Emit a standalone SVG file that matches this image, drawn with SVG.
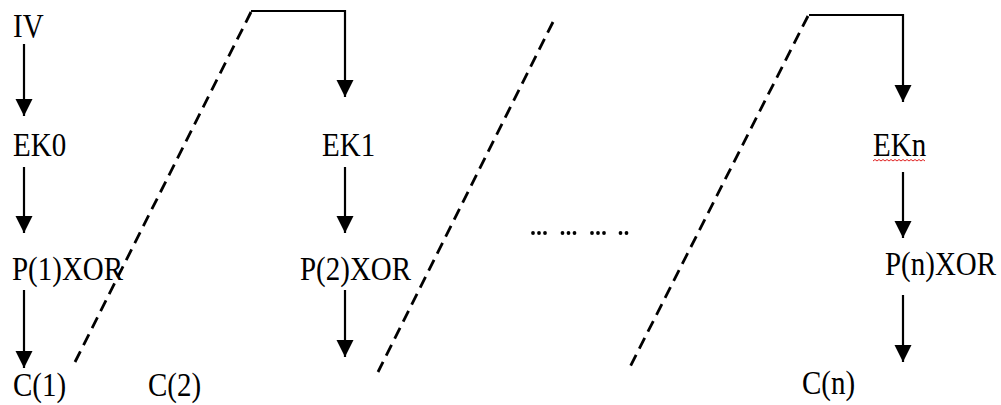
<svg xmlns="http://www.w3.org/2000/svg" width="1001" height="405" viewBox="0 0 1001 405">
  <style>
    .lbl { font-family: "Liberation Serif", "Times New Roman", "DejaVu Serif", serif; font-size: 29px; fill: #000; }
    .flow { fill: none; stroke: #000; stroke-width: 2.2; }
    .dash { fill: none; stroke: #000; stroke-width: 2.8; stroke-dasharray: 12 7; }
    .dot { fill: #000; }
  </style>
  <defs>
    <marker id="head" markerUnits="userSpaceOnUse" markerWidth="18" markerHeight="18" refX="17" refY="8.5" orient="auto">
      <path d="M0,0 L17,8.5 L0,17 Z" fill="#000"/>
    </marker>
    <!-- one group of three dots -->
    <g id="trio">
      <circle class="dot" cx="0" cy="0" r="1.9"/>
      <circle class="dot" cx="6" cy="0" r="1.9"/>
      <circle class="dot" cx="12" cy="0" r="1.9"/>
    </g>
  </defs>
  <rect width="1001" height="405" fill="#fff"/>

  <!-- chain links: dashed feedback lines, key-stream arrows -->
  <g id="connectors">
    <line class="flow" x1="24" y1="44" x2="24" y2="116" marker-end="url(#head)"/>
    <line class="flow" x1="24" y1="167" x2="24" y2="233" marker-end="url(#head)"/>
    <line class="flow" x1="24" y1="290" x2="24" y2="368" marker-end="url(#head)"/>

    <line class="dash" x1="75" y1="362" x2="251" y2="12"/>
    <path class="flow" d="M251,11 H345 V97" marker-end="url(#head)"/>
    <line class="flow" x1="345" y1="167" x2="345" y2="233" marker-end="url(#head)"/>
    <line class="flow" x1="345" y1="290" x2="345" y2="357" marker-end="url(#head)"/>

    <line class="dash" x1="553" y1="22" x2="378" y2="372"/>
    <g id="ellipsis">
      <use href="#trio" x="533" y="233"/>
      <use href="#trio" x="562.5" y="233"/>
      <use href="#trio" x="592" y="233"/>
      <circle class="dot" cx="620.5" cy="233" r="1.9"/>
      <circle class="dot" cx="626.5" cy="233" r="1.9"/>
    </g>

    <line class="dash" x1="808" y1="16" x2="630" y2="367"/>
    <path class="flow" d="M809,15 H903 V102" marker-end="url(#head)"/>
    <line class="flow" x1="903" y1="172" x2="903" y2="238" marker-end="url(#head)"/>
    <line class="flow" x1="903" y1="295" x2="903" y2="362" marker-end="url(#head)"/>
  </g>

  <g id="iv"><text class="lbl" transform="translate(13,37) scale(1,1.18)">IV</text></g>
  <g id="ek0"><text class="lbl" transform="translate(13,156) scale(1,1.18)">EK0</text></g>
  <g id="p1xor"><text class="lbl" transform="translate(12,280) scale(1,1.18)">P(1)XOR</text></g>
  <g id="c1"><text class="lbl" transform="translate(13,396) scale(1,1.18)">C(1)</text></g>
  <g id="c2"><text class="lbl" transform="translate(148,396) scale(1,1.18)">C(2)</text></g>

  <g id="ek1"><text class="lbl" transform="translate(322,156) scale(1,1.18)">EK1</text></g>
  <g id="p2xor"><text class="lbl" transform="translate(300,280) scale(1,1.18)">P(2)XOR</text></g>

  <g id="ekn">
    <text class="lbl" transform="translate(873,156) scale(1,1.18)">EKn</text>
    <path d="M873,161 l2,-1.5 l2,1.5 l2,-1.5 l2,1.5 l2,-1.5 l2,1.5 l2,-1.5 l2,1.5 l2,-1.5 l2,1.5 l2,-1.5 l2,1.5 l2,-1.5 l2,1.5 l2,-1.5 l2,1.5 l2,-1.5 l2,1.5 l2,-1.5 l2,1.5 l2,-1.5 l2,1.5 l2,-1.5 l2,1.5 l2,-1.5 l2,1.5" fill="none" stroke="#e02020" stroke-width="1"/>
  </g>
  <g id="pnxor"><text class="lbl" transform="translate(885,275) scale(1,1.18)">P(n)XOR</text></g>
  <g id="cn"><text class="lbl" transform="translate(802,394) scale(1,1.18)">C(n)</text></g>
</svg>
